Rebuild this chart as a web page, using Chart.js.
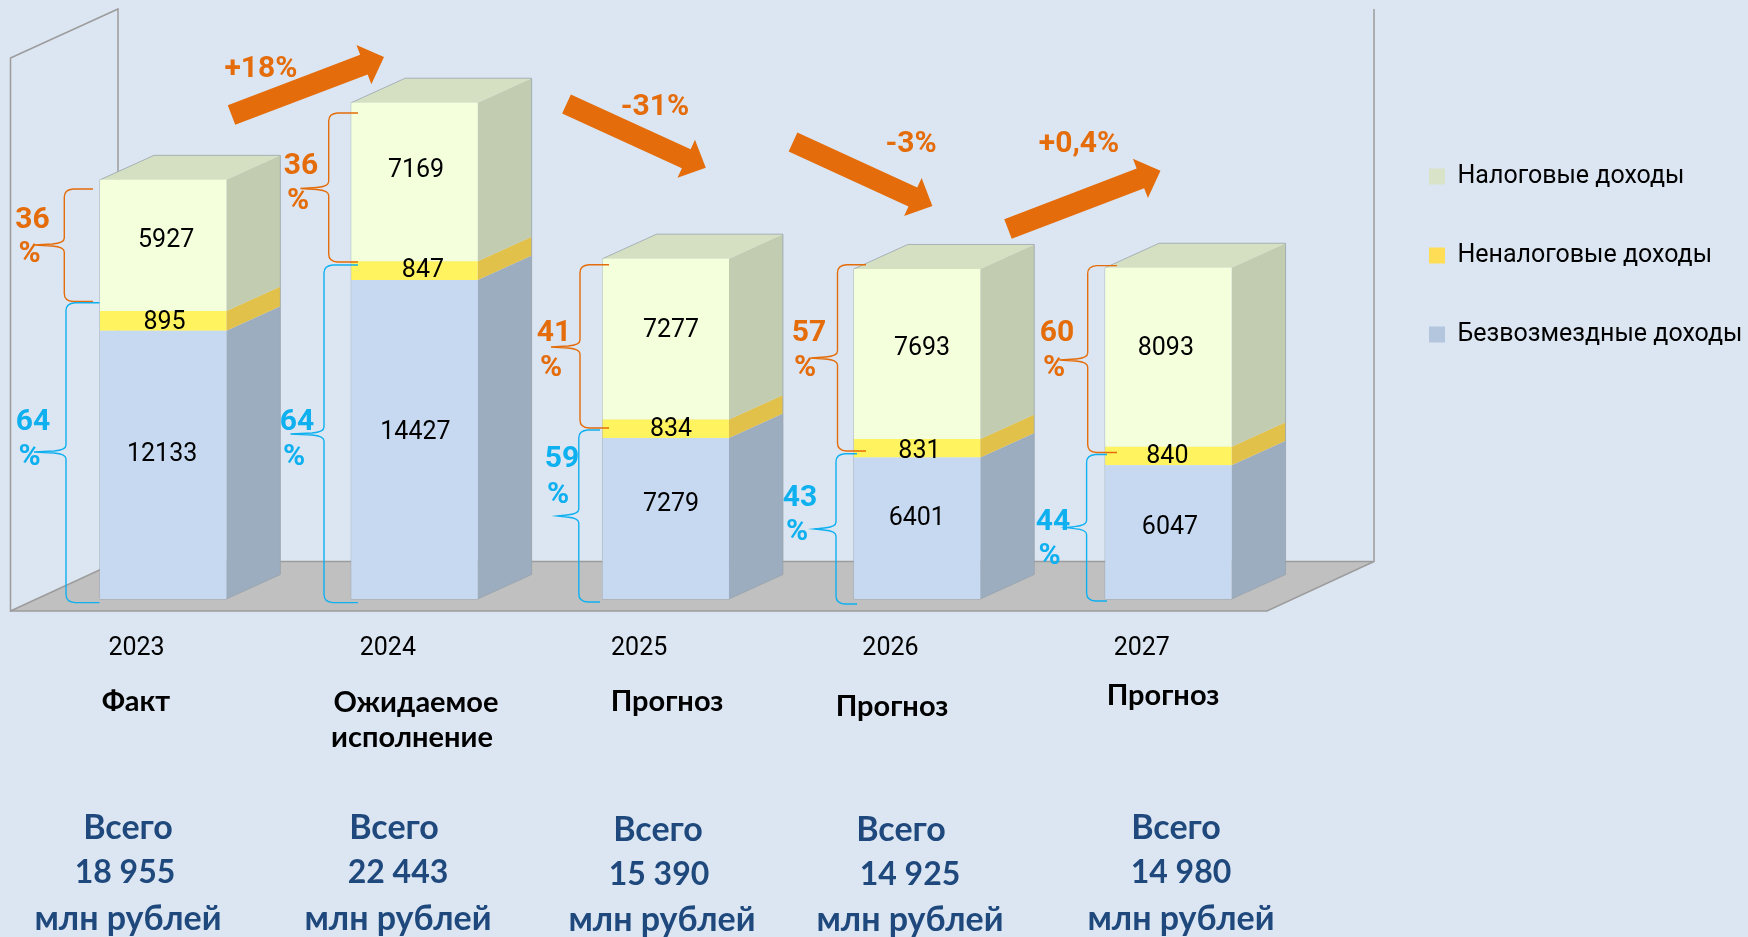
<!DOCTYPE html>
<html lang="ru">
<head>
<meta charset="utf-8">
<title>Доходы бюджета</title>
<script src="https://cdn.jsdelivr.net/npm/chart.js@4/dist/chart.umd.min.js"></script>
<style>
html,body{margin:0;padding:0;background:#DCE6F2;overflow:hidden}
canvas{display:block}
</style>
</head>
<body>
<canvas id="c" width="1748" height="937"></canvas>
<script>
// ---- data ----
const years = ['2023', '2024', '2025', '2026', '2027'];
const grantIncome = [12133, 14427, 7279, 6401, 6047];
const nonTaxIncome = [895, 847, 834, 831, 840];
const taxIncome = [5927, 7169, 7277, 7693, 8093];
const seriesNames = ['Безвозмездные доходы', 'Неналоговые доходы', 'Налоговые доходы'];
const statusLabels = [['Факт'], ['Ожидаемое', 'исполнение'], ['Прогноз'], ['Прогноз'], ['Прогноз']];
const totalLabels = ['18 955', '22 443', '15 390', '14 925', '14 980'];
const taxSharePct = ['36', '36', '41', '57', '60'];
const grantSharePct = ['64', '64', '59', '43', '44'];
const changeLabels = ['+18%', '-31%', '-3%', '+0,4%'];

// ---- styling ----
const BG = '#DCE6F2', ORANGE = '#E46C0A', BLUE = '#0FB0F0', NAVY = '#1F497D';
const frontColors = ['#C6D9F1', '#FFF45F', '#F4FFDC'];
const sideColors = ['#9CADC0', '#E2C14A', '#C2CCB1'];
const topColor = '#D5DFC2';
const legendSwatches = ['#B3C6DE', '#FFDD55', '#D8E3C8'];
const DEPTH_X = 54, DEPTH_Y = 24.5;
const LABEL_FONT = '25px Roboto, "Liberation Sans", sans-serif';
const PCT_FONT = '700 30px Roboto, "Liberation Sans", sans-serif';
const STATUS_FONT = '700 29px Lato, "Noto Sans", sans-serif';
const TOTAL_FONT = '700 34px Lato, "Noto Sans", sans-serif';
const TOTAL_NUM_FONT = '700 32px Lato, "Noto Sans", sans-serif';

// ---- annotation layout, in page pixels / offsets from the bar segment ----
const valueOffsets = [
  [[-1, -10], [1.4, 2], [3, -4.5]],
  [[1, -7.1], [8.5, 0.5], [1.6, -11]],
  [[5.3, -14.2], [5.3, 0.5], [5.3, -8.5]],
  [[-0.3, -9.2], [2.4, 3.5], [5, -5.5]],
  [[1.6, -4.5], [-1, 0.5], [-2.5, -8.5]]
];
const statusPos = [[[136, 702]], [[416, 703], [412, 738]], [[667, 702]], [[892, 707]], [[1163, 696]]];
const totalPos = [
  [[128, 828], [125, 873], [128, 919]],
  [[394, 828], [398, 873], [398, 919]],
  [[658, 830], [659, 875], [662, 920]],
  [[901, 830], [910, 875], [910, 920]],
  [[1176, 828], [1181, 873], [1181, 919]]
];
const taxPctPos = [[[32.5, 220.5], [29.5, 254]], [[301, 166.5], [298, 201]], [[554, 333], [551, 368]], [[809, 333], [805, 368]], [[1057, 333], [1054, 368]]];
const grantPctPos = [[[33, 422], [29.5, 457]], [[297, 422], [294, 457]], [[562, 459.5], [558, 495]], [[800, 498.5], [797, 532]], [[1053, 522], [1049.5, 556]]];
// brace: end x, top y, bottom y, spine x, tip x, tip y
const taxBraces = [[93, 189, 301.5, 64.3, 34.4, 245], [358, 113, 262, 328.7, 300.4, 188.5], [609, 264.8, 428, 580, 551, 347], [866, 264.8, 451, 837.5, 810.7, 358], [1117, 265.6, 452.5, 1087.7, 1059.4, 360]];
const grantBraces = [[99.5, 302.8, 602.6, 66, 34, 452], [358, 265, 602.6, 324, 290.5, 434], [600, 430, 602, 578.8, 557.6, 516], [857, 453.8, 604, 836, 814.5, 529], [1107, 454.5, 601, 1086.6, 1066, 527.6]];
// arrow: tail x, tail y, tip x, tip y
const arrows = [[231.5, 115, 384, 57], [566.5, 104, 705.8, 167.7], [793, 142, 932.4, 206], [1008, 229, 1160.5, 170.7]];
const changePos = [[261, 69], [655, 107], [911, 144], [1079, 144]];

function poly(ctx, pts, fill, stroke, lw) {
  ctx.beginPath();
  pts.forEach((p, i) => i ? ctx.lineTo(p[0], p[1]) : ctx.moveTo(p[0], p[1]));
  ctx.closePath();
  if (fill) { ctx.fillStyle = fill; ctx.fill(); }
  if (stroke) { ctx.strokeStyle = stroke; ctx.lineWidth = lw || 1; ctx.stroke(); }
}
function text(ctx, str, x, y, font, color) {
  ctx.font = font; ctx.fillStyle = color;
  ctx.textAlign = 'center'; ctx.textBaseline = 'middle';
  ctx.fillText(str, x, y);
}
function brace(ctx, b, color) {
  const [end, top, bottom, spine, tipX, tipY] = b;
  ctx.beginPath();
  ctx.moveTo(end, top);
  ctx.lineTo(spine + 9, top);
  ctx.quadraticCurveTo(spine, top + 0.5, spine, top + 8);
  ctx.lineTo(spine, tipY - 7);
  ctx.quadraticCurveTo(spine, tipY - 2, spine - 12, tipY - 1);
  ctx.lineTo(tipX, tipY);
  ctx.lineTo(spine - 12, tipY + 1);
  ctx.quadraticCurveTo(spine, tipY + 2, spine, tipY + 7);
  ctx.lineTo(spine, bottom - 8);
  ctx.quadraticCurveTo(spine, bottom - 0.5, spine + 9, bottom);
  ctx.lineTo(end, bottom);
  ctx.strokeStyle = color; ctx.lineWidth = 1.4; ctx.stroke();
}
function arrow(ctx, a) {
  const [x0, y0, x1, y1] = a;
  const L = Math.hypot(x1 - x0, y1 - y0), ux = (x1 - x0) / L, uy = (y1 - y0) / L, nx = -uy, ny = ux;
  const S = 10.5, H = 21, HL = 21.5;
  const bx = x1 - ux * HL, by = y1 - uy * HL;
  poly(ctx, [
    [x0 + nx * S, y0 + ny * S], [bx + nx * S, by + ny * S], [bx + nx * H, by + ny * H], [x1, y1],
    [bx - nx * H, by - ny * H], [bx - nx * S, by - ny * S], [x0 - nx * S, y0 - ny * S]
  ], ORANGE);
}

const scene3d = {
  id: 'scene3d',
  afterLayout(chart) {
    const l = chart.legend, h = l.height;
    l.left = 1375; l.right = 1748; l.width = 373;
    l.top = 110; l.bottom = l.top + h;
  },
  beforeDatasetsDraw(chart) {
    const ctx = chart.ctx, line = '#9C9C9C';
    ctx.save();
    // floor and walls
    poly(ctx, [[10.5, 611], [1267, 611], [1374, 561.5], [118, 561.5]], '#C0C0C0');
    ctx.strokeStyle = line; ctx.lineWidth = 1.5;
    poly(ctx, [[10.5, 58], [118, 9], [118, 561.5], [10.5, 611]], null, line, 1.5);
    ctx.beginPath();
    ctx.moveTo(118, 561.5); ctx.lineTo(1374, 561.5); ctx.lineTo(1374, 9);
    ctx.moveTo(1374, 561.5); ctx.lineTo(1267, 611); ctx.lineTo(10.5, 611);
    ctx.stroke();
    // sides and tops of the bars from the bar elements
    chart.data.datasets.forEach((ds, d) => {
      chart.getDatasetMeta(d).data.forEach(el => {
        const r = el.x + el.width / 2;
        poly(ctx, [[r, el.base], [r + DEPTH_X, el.base - DEPTH_Y], [r + DEPTH_X, el.y - DEPTH_Y], [r, el.y]], sideColors[d]);
        if (d === chart.data.datasets.length - 1) {
          const l = el.x - el.width / 2;
          poly(ctx, [[l, el.y], [l + DEPTH_X, el.y - DEPTH_Y], [r + DEPTH_X, el.y - DEPTH_Y], [r, el.y]], topColor);
          const bottom = chart.scales.y.getPixelForValue(0);
          poly(ctx, [[l, bottom], [l, el.y], [l + DEPTH_X, el.y - DEPTH_Y], [r + DEPTH_X, el.y - DEPTH_Y],
            [r + DEPTH_X, bottom - DEPTH_Y], [r, bottom]], null, 'rgba(150,160,170,.75)', 1);
        }
      });
    });
    ctx.restore();
  },
  afterDatasetsDraw(chart) {
    const ctx = chart.ctx;
    ctx.save();
    // values on the bars
    chart.data.datasets.forEach((ds, d) => {
      chart.getDatasetMeta(d).data.forEach((el, i) => {
        const o = valueOffsets[i][d];
        text(ctx, String(ds.data[i]), el.x + o[0], (el.y + el.base) / 2 + o[1], LABEL_FONT, '#000');
      });
    });
    taxBraces.forEach(b => brace(ctx, b, ORANGE));
    grantBraces.forEach(b => brace(ctx, b, BLUE));
    years.forEach((y, i) => {
      text(ctx, taxSharePct[i], taxPctPos[i][0][0], taxPctPos[i][0][1], PCT_FONT, ORANGE);
      text(ctx, '%', taxPctPos[i][1][0], taxPctPos[i][1][1], PCT_FONT, ORANGE);
      text(ctx, grantSharePct[i], grantPctPos[i][0][0], grantPctPos[i][0][1], PCT_FONT, BLUE);
      text(ctx, '%', grantPctPos[i][1][0], grantPctPos[i][1][1], PCT_FONT, BLUE);
      statusLabels[i].forEach((s, k) => text(ctx, s, statusPos[i][k][0], statusPos[i][k][1], STATUS_FONT, '#000'));
      text(ctx, 'Всего', totalPos[i][0][0], totalPos[i][0][1], TOTAL_FONT, NAVY);
      text(ctx, totalLabels[i], totalPos[i][1][0], totalPos[i][1][1], TOTAL_NUM_FONT, NAVY);
      text(ctx, 'млн рублей', totalPos[i][2][0], totalPos[i][2][1], TOTAL_FONT, NAVY);
    });
    arrows.forEach(a => arrow(ctx, a));
    changeLabels.forEach((s, i) => text(ctx, s, changePos[i][0], changePos[i][1], PCT_FONT, ORANGE));
    ctx.restore();
  }
};

new Chart(document.getElementById('c'), {
  type: 'bar',
  data: {
    labels: years,
    datasets: [
      { label: seriesNames[0], data: grantIncome, backgroundColor: frontColors[0] },
      { label: seriesNames[1], data: nonTaxIncome, backgroundColor: frontColors[1] },
      { label: seriesNames[2], data: taxIncome, backgroundColor: frontColors[2] }
    ]
  },
  plugins: [scene3d],
  options: {
    responsive: false,
    animation: false,
    events: [],
    layout: { padding: { left: 37.5, top: 9, right: 354, bottom: 0 } },
    datasets: { bar: { categoryPercentage: 1, barPercentage: 0.503 } },
    scales: {
      x: {
        stacked: true,
        grid: { display: false, drawTicks: false },
        border: { display: false },
        afterFit(s) { s.height = 338; },
        ticks: { color: '#000', font: { family: 'Roboto, "Liberation Sans", sans-serif', size: 25 }, padding: 35, labelOffset: -26.6, maxRotation: 0, autoSkip: false }
      },
      y: { stacked: true, display: false, min: 0, max: 26680 }
    },
    plugins: {
      tooltip: { enabled: false },
      title: { display: false },
      legend: {
        display: true,
        position: 'right',
        align: 'start',
        reverse: true,
        maxWidth: 100,
        labels: {
          color: '#000',
          font: { family: 'Roboto, "Liberation Sans", sans-serif', size: 25 },
          boxWidth: 16, boxHeight: 16, padding: 54,
          generateLabels(chart) {
            return chart.data.datasets.map((ds, i) => ({
              text: ds.label, fillStyle: legendSwatches[i], strokeStyle: legendSwatches[i],
              lineWidth: 0, hidden: false, datasetIndex: i, fontColor: '#000'
            }));
          }
        }
      }
    }
  }
});
</script>
</body>
</html>
